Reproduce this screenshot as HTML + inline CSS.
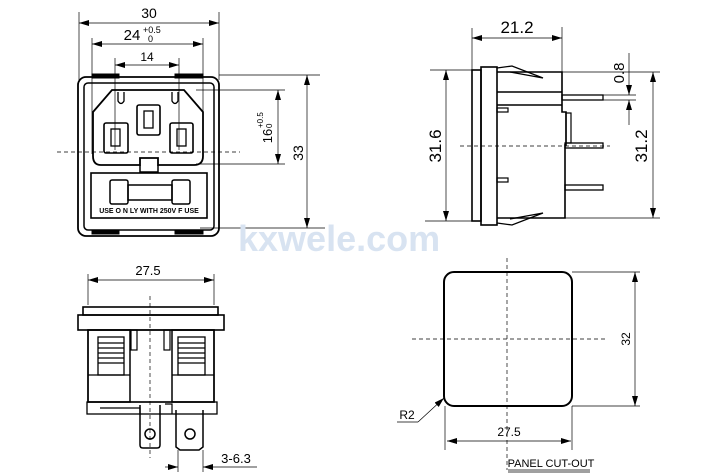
<!DOCTYPE html>
<html><head><meta charset="utf-8"><style>
html,body{margin:0;padding:0;background:#fff;}
svg{display:block;font-family:"Liberation Sans",sans-serif;}
</style></head><body>
<svg width="718" height="476" viewBox="0 0 718 476" xmlns="http://www.w3.org/2000/svg">
<defs>
<marker id="a" viewBox="0 0 10 6" refX="10" refY="3" markerWidth="10" markerHeight="6" orient="auto-start-reverse" markerUnits="userSpaceOnUse"><path d="M0,0 L10,3 L0,6 Z" fill="#000"/></marker>
</defs>
<g fill="none" stroke="#000" stroke-width="1">
<line x1="79" y1="12" x2="79" y2="80" stroke-width="0.7"/>
<line x1="219" y1="12" x2="219" y2="80" stroke-width="0.7"/>
<line x1="79" y1="23" x2="219" y2="23" marker-start="url(#a)" marker-end="url(#a)" stroke-width="0.7"/>
<line x1="92" y1="38" x2="92" y2="154" stroke-width="0.7"/>
<line x1="203" y1="38" x2="203" y2="154" stroke-width="0.7"/>
<line x1="92" y1="44" x2="203" y2="44" marker-start="url(#a)" marker-end="url(#a)" stroke-width="0.7"/>
<line x1="115" y1="58" x2="115" y2="150" stroke-width="0.7"/>
<line x1="179" y1="58" x2="179" y2="150" stroke-width="0.7"/>
<line x1="115" y1="65" x2="179" y2="65" marker-start="url(#a)" marker-end="url(#a)" stroke-width="0.7"/>
<rect x="78" y="77" width="141" height="159" rx="8" stroke-width="1.8"/>
<rect x="84" y="83" width="130" height="147" rx="4" stroke-width="1.5"/>
<rect x="92" y="74" width="27" height="4" fill="#000"/>
<rect x="175" y="74" width="28" height="4" fill="#000"/>
<rect x="92" y="230" width="27" height="4" fill="#000"/>
<rect x="175" y="230" width="28" height="4" fill="#000"/>
<path d="M112,90 L184,90 L203,112 L203,156 Q203,165 194,165 L158,165 L158,158 L140,158 L140,165 L101,165 Q93,165 93,156 L93,112 Z" stroke-width="1.8"/>
<path d="M140,165 L140,172 L158,172 L158,165" stroke-width="1.5"/>
<path d="M118,92 L118,101 Q121,106 124,101 L124,92" stroke-width="1.3"/>
<path d="M172,92 L172,101 Q175,106 178,101 L178,92" stroke-width="1.3"/>
<rect x="104" y="123" width="24" height="30" rx="2" stroke-width="1.6"/>
<rect x="111" y="129" width="9" height="17" stroke-width="1.3"/>
<rect x="137" y="105" width="23" height="30" rx="2" stroke-width="1.6"/>
<rect x="144" y="111" width="9" height="17" stroke-width="1.3"/>
<rect x="170" y="123" width="23" height="30" rx="2" stroke-width="1.6"/>
<rect x="177" y="129" width="9" height="17" stroke-width="1.3"/>
<rect x="91" y="173" width="116" height="45" stroke-width="1.6"/>
<rect x="110" y="180" width="18" height="24" rx="2" stroke-width="1.5"/>
<rect x="172" y="180" width="18" height="24" rx="2" stroke-width="1.5"/>
<rect x="128" y="185" width="44" height="15" stroke-width="1.5"/>
<line x1="57" y1="152" x2="240" y2="152" stroke-dasharray="4,3" stroke-width="0.7"/>
<line x1="196" y1="90" x2="285" y2="90" stroke-width="0.7"/>
<line x1="196" y1="164" x2="285" y2="164" stroke-width="0.7"/>
<line x1="278" y1="90" x2="278" y2="164" marker-start="url(#a)" marker-end="url(#a)" stroke-width="0.7"/>
<line x1="219" y1="75" x2="320" y2="75" stroke-width="0.7"/>
<line x1="200" y1="228" x2="325" y2="228" stroke-width="0.7"/>
<line x1="307" y1="75" x2="307" y2="228" marker-start="url(#a)" marker-end="url(#a)" stroke-width="0.7"/>

<line x1="472" y1="28" x2="472" y2="70" stroke-width="0.7"/>
<line x1="562" y1="27" x2="562" y2="72" stroke-width="0.7"/>
<line x1="472" y1="38" x2="562" y2="38" marker-start="url(#a)" marker-end="url(#a)" stroke-width="0.7"/>
<rect x="472" y="70" width="9" height="151" stroke-width="1.6"/>
<rect x="481" y="67" width="16" height="158" stroke-width="1.6"/>
<path d="M497,72 L562,72 L562,112 L566,112 L566,145 L565,145 L565,218 L497,218" stroke-width="1.6"/>
<line x1="497" y1="92" x2="562" y2="92" stroke-width="1.5"/>
<line x1="497" y1="105" x2="562" y2="105" stroke-width="1.5"/>
<path d="M497,68 L512,66 L543,78 L510,72" stroke-width="1.3"/>
<path d="M497,223 L512,225 L543,213 L510,219" stroke-width="1.3"/>
<rect x="562" y="95" width="41" height="5" stroke-width="1.3"/>
<rect x="566" y="113" width="5" height="30" stroke-width="1.2"/>
<rect x="565" y="143" width="38" height="5" stroke-width="1.3"/>
<rect x="565" y="185" width="38" height="5" stroke-width="1.3"/>
<rect x="497" y="108" width="11" height="4" stroke-width="1.2"/>
<rect x="497" y="178" width="11" height="4" stroke-width="1.2"/>
<line x1="430" y1="70" x2="472" y2="70" stroke-width="0.7"/>
<line x1="425" y1="221" x2="472" y2="221" stroke-width="0.7"/>
<line x1="446" y1="70" x2="446" y2="221" marker-start="url(#a)" marker-end="url(#a)" stroke-width="0.7"/>
<line x1="603" y1="95" x2="636" y2="95" stroke-width="0.7"/>
<line x1="603" y1="100" x2="636" y2="100" stroke-width="0.7"/>
<line x1="629" y1="53" x2="629" y2="95" marker-end="url(#a)" stroke-width="0.7"/>
<line x1="629" y1="125" x2="629" y2="100" marker-end="url(#a)" stroke-width="0.7"/>
<line x1="562" y1="72" x2="660" y2="72" stroke-width="0.7"/>
<line x1="565" y1="218" x2="660" y2="218" stroke-width="0.7"/>
<line x1="653" y1="72" x2="653" y2="218" marker-start="url(#a)" marker-end="url(#a)" stroke-width="0.7"/>
<line x1="460" y1="146" x2="610" y2="146" stroke-dasharray="4,3" stroke-width="0.7"/>

<line x1="88" y1="274" x2="88" y2="305" stroke-width="0.7"/>
<line x1="214" y1="274" x2="214" y2="305" stroke-width="0.7"/>
<line x1="88" y1="280" x2="214" y2="280" marker-start="url(#a)" marker-end="url(#a)" stroke-width="0.7"/>
<rect x="83" y="307" width="135" height="8" stroke-width="1.6"/>
<rect x="78" y="315" width="146" height="15" stroke-width="1.6"/>
<rect x="88" y="330" width="126" height="72" stroke-width="1.5"/>
<rect x="88" y="330" width="42" height="72" stroke-width="1.5"/>
<rect x="172" y="330" width="42" height="72" stroke-width="1.5"/>
<rect x="98" y="337" width="26" height="38" stroke-width="1.3"/>
<rect x="178" y="337" width="27" height="38" stroke-width="1.3"/>
<g stroke-width="1.3">
<line x1="98" y1="343" x2="124" y2="343"/><line x1="98" y1="348" x2="124" y2="348"/><line x1="98" y1="353" x2="124" y2="353"/><line x1="98" y1="358" x2="124" y2="358"/><line x1="98" y1="363" x2="124" y2="363"/>
<line x1="178" y1="343" x2="205" y2="343"/><line x1="178" y1="348" x2="205" y2="348"/><line x1="178" y1="353" x2="205" y2="353"/><line x1="178" y1="358" x2="205" y2="358"/><line x1="178" y1="363" x2="205" y2="363"/>
</g>
<line x1="88" y1="375" x2="130" y2="375" stroke-width="1.3"/>
<line x1="172" y1="375" x2="214" y2="375" stroke-width="1.3"/>
<rect x="131" y="330" width="6" height="20" stroke-width="1.2"/>
<rect x="164" y="330" width="6" height="20" stroke-width="1.2"/>
<rect x="87" y="402" width="130" height="12" stroke-width="1.3"/>
<path d="M100,408 L140,408 L140,414 M165,404 L172,404 L172,414" stroke-width="1.2"/>
<path d="M140,405 L140,445 Q140,448 143,448 L157,448 Q160,448 160,445 L160,405" stroke-width="1.5"/>
<circle cx="150" cy="434" r="5" stroke-width="1.5"/>
<path d="M176,410 L176,447 L180,450 L199,450 L203,447 L203,410" stroke-width="1.5"/>
<circle cx="190" cy="434" r="5" stroke-width="1.5"/>
<line x1="150" y1="296" x2="150" y2="458" stroke-dasharray="4,3" stroke-width="0.7"/>
<line x1="178" y1="450" x2="178" y2="472" stroke-width="0.7"/>
<line x1="203" y1="450" x2="203" y2="472" stroke-width="0.7"/>
<line x1="165" y1="467" x2="178" y2="467" marker-end="url(#a)" stroke-width="0.7"/>
<line x1="257" y1="467" x2="203" y2="467" marker-end="url(#a)" stroke-width="0.7"/>

<rect x="444" y="272" width="128" height="134" rx="10" stroke-width="2"/>
<line x1="507" y1="258" x2="507" y2="470" stroke-dasharray="4,3" stroke-width="0.7"/>
<line x1="412" y1="339" x2="605" y2="339" stroke-dasharray="4,3" stroke-width="0.7"/>
<line x1="572" y1="272" x2="640" y2="272" stroke-width="0.7"/>
<line x1="572" y1="406" x2="640" y2="406" stroke-width="0.7"/>
<line x1="635" y1="272" x2="635" y2="406" marker-start="url(#a)" marker-end="url(#a)" stroke-width="0.7"/>
<line x1="445" y1="406" x2="445" y2="450" stroke-width="0.7"/>
<line x1="572" y1="406" x2="572" y2="450" stroke-width="0.7"/>
<line x1="447" y1="441" x2="571" y2="441" marker-start="url(#a)" marker-end="url(#a)" stroke-width="0.7"/>
<line x1="418" y1="422" x2="444" y2="398" marker-end="url(#a)" stroke-width="0.7"/>
<line x1="397" y1="422" x2="418" y2="422" stroke-width="0.7"/>
<line x1="508" y1="470" x2="590" y2="470" stroke-width="0.7"/>
<line x1="508" y1="472" x2="590" y2="472" stroke-width="0.7"/>
</g>

<text x="238" y="251" font-size="36" font-weight="bold" fill="#d8e3f1">kxwele.com</text>

<g fill="#000" font-size="14">
<text x="149" y="18" text-anchor="middle">30</text>
<text x="132" y="40" text-anchor="middle" font-size="15">24</text>
<text x="143" y="33" font-size="9">+0.5</text>
<text x="148" y="42" font-size="9">0</text>
<text x="147" y="61" text-anchor="middle" font-size="12">14</text>
<text x="149" y="213" text-anchor="middle" font-size="7" font-weight="bold">USE O N LY WITH 250V F USE</text>
<g transform="translate(272,136) rotate(-90)"><text x="0" y="0" text-anchor="middle" font-size="13">16</text><text x="8" y="-9" font-size="8">+0.5</text><text x="8" y="0" font-size="8">0</text></g>
<text transform="translate(303,153) rotate(-90)" text-anchor="middle" font-size="14">33</text>
<text x="517" y="33" text-anchor="middle" font-size="17">21.2</text>
<text transform="translate(441,146) rotate(-90)" text-anchor="middle" font-size="17">31.6</text>
<text transform="translate(624,73) rotate(-90)" text-anchor="middle" font-size="15">0.8</text>
<text transform="translate(647,146) rotate(-90)" text-anchor="middle" font-size="17">31.2</text>
<text x="148" y="275" text-anchor="middle" font-size="13">27.5</text>
<text x="236" y="463" text-anchor="middle" font-size="13">3-6.3</text>
<text transform="translate(630,339) rotate(-90)" text-anchor="middle" font-size="12">32</text>
<text x="509" y="436" text-anchor="middle" font-size="12">27.5</text>
<text x="407" y="419" text-anchor="middle" font-size="12">R2</text>
<text x="551" y="467" text-anchor="middle" font-size="11">PANEL CUT-OUT</text>
</g>
</svg>
</body></html>
